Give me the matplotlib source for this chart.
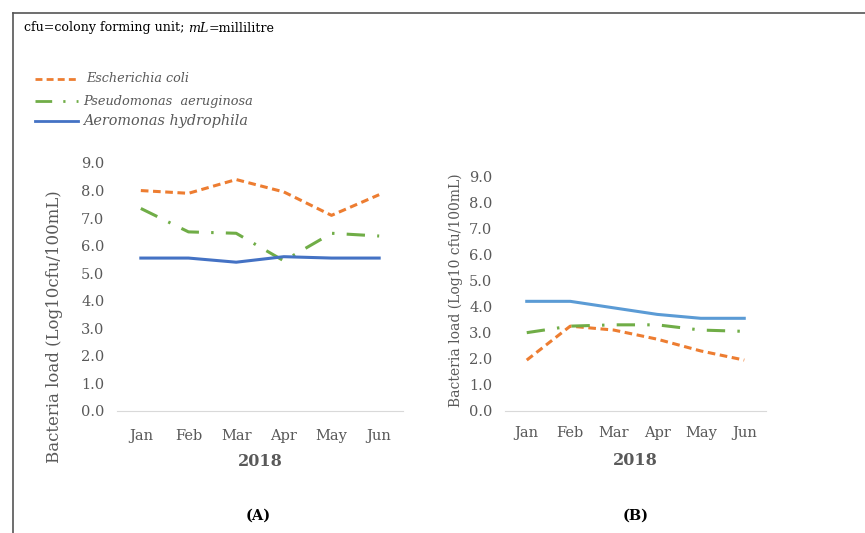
import numpy as np
import matplotlib
matplotlib.use("Agg")
import matplotlib.pyplot as plt
from matplotlib.lines import Line2D

plt.rcParams['font.family'] = ['DejaVu Serif']

# Data
months = ["Jan", "Feb", "Mar", "Apr", "May", "Jun"]
ecoli_a = [8.0, 7.9, 8.4, 7.95, 7.1, 7.85]
pseudo_a = [7.35, 6.5, 6.45, 5.45, 6.45, 6.35]
aero_a = [5.55, 5.55, 5.4, 5.6, 5.55, 5.55]

ecoli_b = [1.95, 3.25, 3.1, 2.75, 2.3, 1.95]
pseudo_b = [3.0, 3.25, 3.3, 3.3, 3.1, 3.05]
aero_b = [4.2, 4.2, 3.95, 3.7, 3.55, 3.55]

yticks = np.arange(0, 10, 1.0)

orange = "#ED7D31"
green = "#70AD47"
blue_a = "#4472C4"
blue_b = "#5B9BD5"
grey = "#595959"
dash_e = (0, (2.5, 1.5))
dash_p = (0, (6, 4, 0.8, 4))

W, H = 865, 533
fig = plt.figure(figsize=(W / 100, H / 100), dpi=100)

# Frame round the figure (left and top edges)
fig.add_artist(Line2D([13/W, 13/W], [0, 1 - 13/H], color="#555555", lw=1.2))
fig.add_artist(Line2D([13/W, 1], [1 - 13/H, 1 - 13/H], color="#555555", lw=1.2))

# Header note, written in pieces so "mL" can be italic
fig.canvas.draw()
renderer = fig.canvas.get_renderer()
xpos = 24
for piece, style in [("cfu=colony forming unit; ", "normal"), ("mL", "italic"), ("=millilitre", "normal")]:
    t = fig.text(xpos/W, 1 - 28/H, piece, fontsize=9.1, style=style, va="center", ha="left")
    xpos += t.get_window_extent(renderer).width

# Legend drawn by hand at top left
leg_items = [("Escherichia coli", orange, dash_e, 79, 86, 9.2),
             ("Pseudomonas  aeruginosa", green, dash_p, 101, 83, 9.25),
             ("Aeromonas hydrophila", blue_a, "-", 121, 83, 10.4)]
for name, col, ls, ypix, xtext, fs in leg_items:
    fig.add_artist(Line2D([35/W, 78/W], [1 - ypix/H, 1 - ypix/H],
                          color=col, lw=2, linestyle=ls))
    fig.text(xtext/W, 1 - ypix/H, name, fontsize=fs, style="italic",
             color=grey, va="center", ha="left")


def draw_panel(ax, e, p, a, blue, ylab, xpad, ylab_size):
    x = np.arange(len(months))
    ax.plot(x, e, color=orange, lw=2.2, linestyle=dash_e)
    ax.plot(x, p, color=green, lw=2.2, linestyle=dash_p)
    ax.plot(x, a, color=blue, lw=2.2)
    ax.set_xlim(-0.5, 5.5)
    ax.set_ylim(0, 9)
    ax.set_yticks(yticks)
    ax.set_yticklabels([f"{v:.1f}" for v in yticks])
    ax.set_xticks(x)
    ax.set_xticklabels(months)
    for s in ["top", "right", "left"]:
        ax.spines[s].set_visible(False)
    ax.spines["bottom"].set_color("#D9D9D9")
    ax.tick_params(length=0, labelsize=10.5, colors=grey)
    ax.tick_params(axis="y", pad=9)
    ax.tick_params(axis="x", pad=xpad)
    ax.set_ylabel(ylab, fontsize=ylab_size, color=grey)
    ax.set_xlabel("2018", fontsize=11.5, color=grey, fontweight="bold")


ax_a = fig.add_axes([117/W, 1 - 411/H, 286/W, 248/H])
draw_panel(ax_a, ecoli_a, pseudo_a, aero_a, blue_a, "Bacteria load (Log10cfu/100mL)", 13, 11.9)
ax_a.yaxis.set_label_coords(-0.19, 0.34)
ax_a.xaxis.set_label_coords(0.5, -0.17)

ax_b = fig.add_axes([505/W, 1 - 411/H, 261/W, 235/H])
draw_panel(ax_b, ecoli_b, pseudo_b, aero_b, blue_b, "Bacteria load (Log10 cfu/100mL)", 11, 10.0)
ax_b.yaxis.set_label_coords(-0.16, 0.515)
ax_b.xaxis.set_label_coords(0.5, -0.175)

fig.text(258/W, 1 - 516/H, "(A)", fontsize=10.5, fontweight="bold", ha="center", va="center")
fig.text(636/W, 1 - 516/H, "(B)", fontsize=10.5, fontweight="bold", ha="center", va="center")

fig.savefig("out.png", dpi=100)
